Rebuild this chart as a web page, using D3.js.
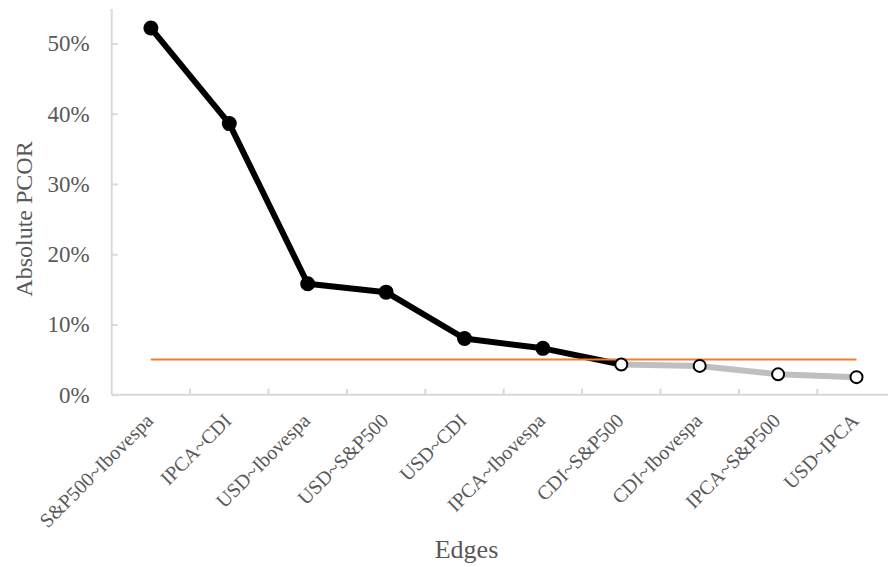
<!DOCTYPE html>
<html>
<head>
<meta charset="utf-8">
<title>Absolute PCOR by edge</title>
<style>
  body { margin: 0; background: #fff; }
  text { font-family: "Liberation Serif", "Times New Roman", serif; }
</style>
</head>
<body>
<script src="https://cdn.jsdelivr.net/npm/d3@7"></script>
<script>
var width = 888, height = 567;

// data
const edges = ["S&P500~Ibovespa", "IPCA~CDI", "USD~Ibovespa", "USD~S&P500", "USD~CDI",
               "IPCA~Ibovespa", "CDI~S&P500", "CDI~Ibovespa", "IPCA~S&P500", "USD~IPCA"];
const pcor = [0.522, 0.386, 0.158, 0.146, 0.080, 0.066, 0.043, 0.041, 0.029, 0.025];
const significant = [true, true, true, true, true, true, false, false, false, false];
const threshold = 0.05;
const yTicks = [0, 0.1, 0.2, 0.3, 0.4, 0.5];

var svg = d3.select("body").append("svg")
    .attr("width", width)
    .attr("height", height);

var x = d3.scaleBand()
    .domain(edges)
    .range([111.7, 895.7]);

var y = d3.scaleLinear()
    .domain([0, 0.5])
    .range([394.7, 43.5]);

var grey = "#d9d9d9", textColor = "#595959";

// y axis
var yAxis = svg.append("g")
    .attr("transform", "translate(" + x.range()[0] + ",0)")
    .call(d3.axisLeft(y).tickValues(yTicks).tickFormat(d3.format(".0%")).tickSize(-6).tickPadding(22));
yAxis.select(".domain").attr("stroke", grey).attr("stroke-width", 2)
    .attr("d", "M0," + y(0) + "V9");
yAxis.selectAll(".tick line").attr("stroke", grey).attr("stroke-width", 2);
yAxis.selectAll(".tick text").attr("fill", textColor).style("font-size", "23px")
    .style("font-family", "Liberation Serif");

// x axis
var xAxis = svg.append("g")
    .attr("transform", "translate(0," + y(0) + ")")
    .call(d3.axisBottom(x).tickSize(0).tickFormat(""));
xAxis.select(".domain").attr("stroke", grey).attr("stroke-width", 2)
    .attr("d", "M" + x.range()[0] + ",0H" + width);

// tick marks between categories
svg.append("g").selectAll("line")
    .data(edges.slice(1))
    .enter().append("line")
    .attr("x1", d => x(d)).attr("x2", d => x(d))
    .attr("y1", y(0) - 6).attr("y2", y(0))
    .attr("stroke", grey).attr("stroke-width", 2);

// rotated category labels
svg.append("g").selectAll("text")
    .data(edges)
    .enter().append("text")
    .attr("transform", d => "translate(" + (x(d) + x.bandwidth() / 2 + 3.5) + ",422) rotate(-45)")
    .attr("text-anchor", "end")
    .attr("fill", textColor)
    .style("font-size", "20px")
    .text(d => d);

// axis titles
svg.append("text")
    .attr("transform", "translate(32,219) rotate(-90)")
    .attr("text-anchor", "middle")
    .attr("fill", textColor)
    .style("font-size", "24px")
    .text("Absolute PCOR");

svg.append("text")
    .attr("x", 466.5).attr("y", 558)
    .attr("text-anchor", "middle")
    .attr("fill", textColor)
    .style("font-size", "26px")
    .text("Edges");

var pts = edges.map((d, i) => ({ edge: d, v: pcor[i], sig: significant[i] }));
var cx = d => x(d.edge) + x.bandwidth() / 2;
var line = d3.line().x(cx).y(d => y(d.v));

// grey segment for non-significant edges
var firstOff = significant.indexOf(false);
svg.append("path")
    .datum(pts.slice(firstOff))
    .attr("d", line)
    .attr("fill", "none")
    .attr("stroke", "#bfbfbf")
    .attr("stroke-width", 6);

// black segment (up to the first non-significant point)
svg.append("path")
    .datum(pts.slice(0, firstOff + 1))
    .attr("d", line)
    .attr("fill", "none")
    .attr("stroke", "#000")
    .attr("stroke-width", 6)
    .attr("stroke-linejoin", "round");

// threshold line
svg.append("line")
    .attr("x1", cx(pts[0])).attr("x2", cx(pts[pts.length - 1]))
    .attr("y1", y(threshold)).attr("y2", y(threshold))
    .attr("stroke", "#ed7d31").attr("stroke-width", 2);

// markers
svg.append("g").selectAll("circle")
    .data(pts)
    .enter().append("circle")
    .attr("cx", cx)
    .attr("cy", d => y(d.v))
    .attr("r", d => d.sig ? 7.5 : 6)
    .attr("fill", d => d.sig ? "#000" : "#fff")
    .attr("stroke", "#000")
    .attr("stroke-width", d => d.sig ? 0 : 2);
</script>
</body>
</html>
